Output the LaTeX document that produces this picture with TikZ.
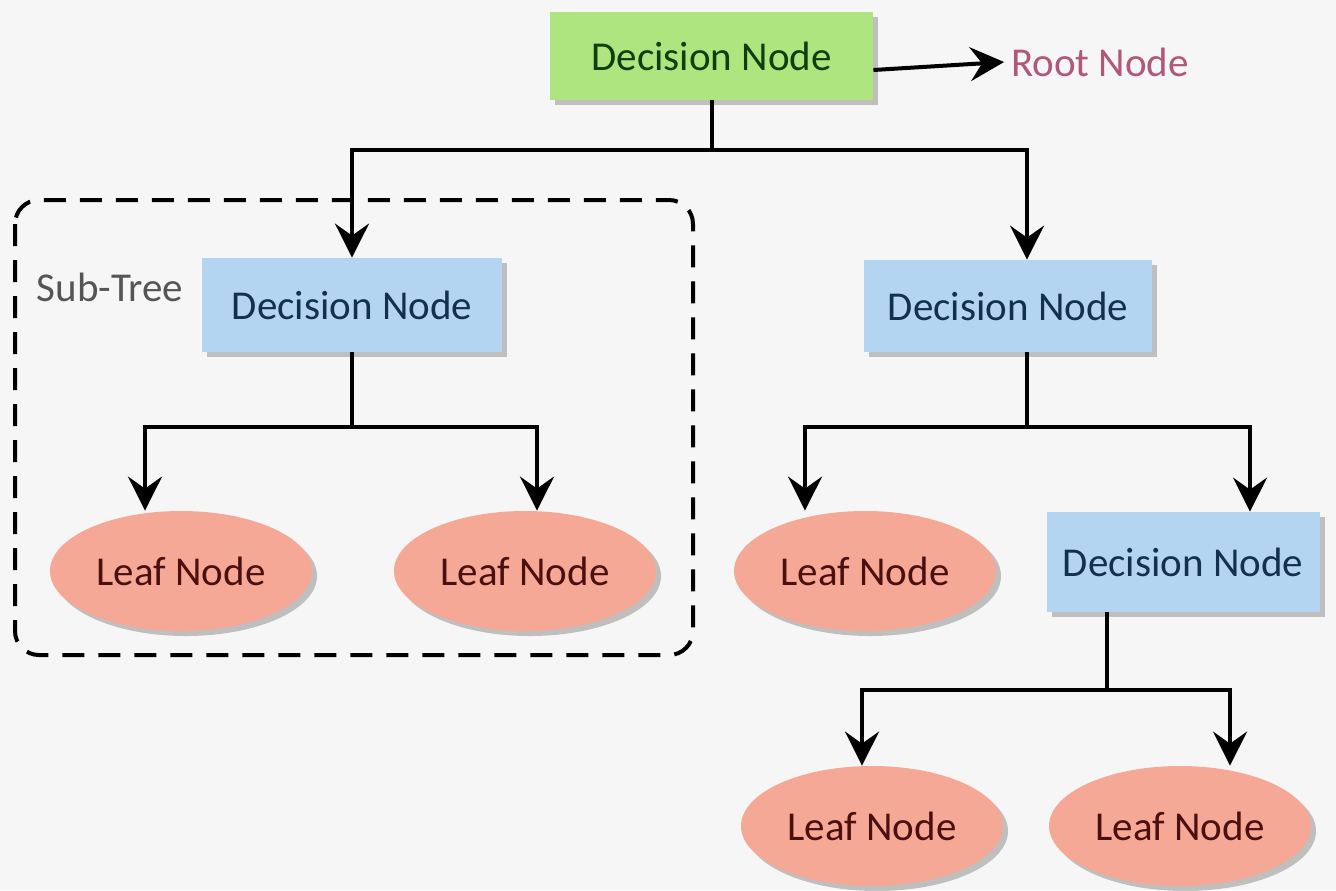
\documentclass[tikz,border=0pt]{standalone}
\usepackage{fontspec}
\setmainfont{Carlito}
\usetikzlibrary{shapes.geometric,arrows.meta,shadows}
\definecolor{bgcol}{HTML}{F6F6F6}
\definecolor{rootgreen}{HTML}{AEE57E}
\definecolor{roottext}{HTML}{0E3F0E}
\definecolor{decblue}{HTML}{B3D5F2}
\definecolor{dectext}{HTML}{12304F}
\definecolor{leafred}{HTML}{F5A896}
\definecolor{leaftext}{HTML}{4B0F0F}
\definecolor{rootlbl}{HTML}{B0577A}
\definecolor{subtxt}{HTML}{555555}
\tikzset{
  lbl/.style={font=\fontsize{20.5}{23}\selectfont},
  shad/.style={drop shadow={shadow xshift=2.5pt,shadow yshift=-2.5pt,opacity=0.22,fill=black}},
  dnode/.style={lbl,rectangle,fill=decblue,text=dectext,inner sep=0pt,shad},
  rnode/.style={lbl,rectangle,fill=rootgreen,text=roottext,inner sep=0pt,shad},
  leafnode/.style={lbl,ellipse,fill=leafred,text=leaftext,inner sep=0pt,minimum width=131pt,minimum height=60pt,shad},
  conn/.style={line width=2pt,black},
  arr/.style={conn,-{Stealth[length=17pt,width=17pt,inset=6pt]}},
  subframe/.style={line width=2pt,black,dash pattern=on 11pt off 7pt,rounded corners=12pt}
}
\begin{document}
\begin{tikzpicture}[x=0.5pt,y=-0.5pt]
\fill[bgcol] (0,0) rectangle (1336,890);
\useasboundingbox (0,0) rectangle (1336,890);

% sub-tree frame
\draw[subframe] (15,200) rectangle (693,655);
\node[lbl,text=subtxt] (sublbl) at (110,287) {Sub-Tree};

% nodes
\node[rnode,minimum width=161.5pt,minimum height=44pt] (root) at (711.5,56) {Decision Node};
\node[lbl,text=rootlbl] (rootlbl) at (1100,62) {Root Node};

\node[dnode,minimum width=150pt,minimum height=47pt] (ld) at (352,305) {Decision Node};
\node[dnode,minimum width=144pt,minimum height=46pt] (rd) at (1008,306) {Decision Node};
\node[dnode,minimum width=136.5pt,minimum height=50pt] (rd2) at (1183,562) {Decision Node};

\node[leafnode] (l1) at (181,571) {Leaf Node};
\node[leafnode] (l2) at (525,571) {Leaf Node};
\node[leafnode] (r1) at (865,571) {Leaf Node};
\node[leafnode] (b1) at (872,826) {Leaf Node};
\node[leafnode] (b2) at (1180,826) {Leaf Node};

% junctions
\coordinate (j1) at (711.5,150);
\coordinate (j2) at (352,427);
\coordinate (j3) at (1027,427);
\coordinate (j4) at (1107,690);

% connectors
\draw[arr] ([yshift=-7pt]root.east) -- (rootlbl.west);

\draw[conn] (root.south) -- (j1);
\draw[arr] (j1) -| (ld.north);
\draw[arr] (j1) -| ([xshift=9.5pt]rd.north);

\draw[conn] (ld.south) -- (j2);
\draw[arr] (j2) -| ([xshift=-18pt]l1.north);
\draw[arr] (j2) -| ([xshift=6pt]l2.north);

\draw[conn] ([xshift=9.5pt]rd.south) -- (j3);
\draw[arr] (j3) -| ([xshift=-30pt]r1.north);
\draw[arr] (j3) -| ([xshift=33.5pt]rd2.north);

\draw[conn] ([xshift=-38pt]rd2.south) -- (j4);
\draw[arr] (j4) -| ([xshift=-5pt]b1.north);
\draw[arr] (j4) -| ([xshift=25pt]b2.north);
\end{tikzpicture}
\end{document}
